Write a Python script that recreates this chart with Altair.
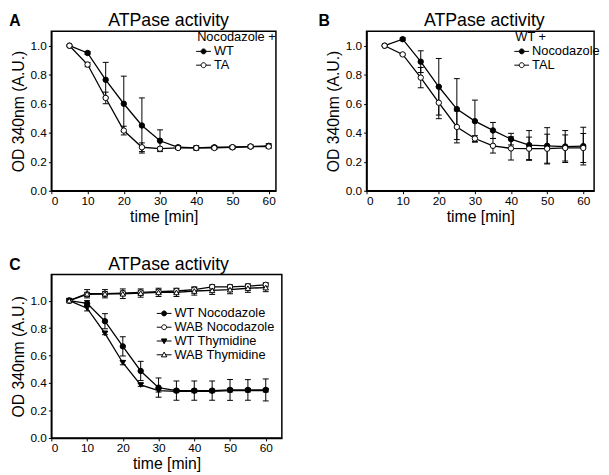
import altair as alt
import pandas as pd

# ---------------- data ----------------
times = [5, 10, 15, 20, 25, 30, 35, 40, 45, 50, 55, 60]

# Panel A  (Nocodazole +)
a_names = ["WT", "TA"]
a_wt = [1.0, 0.95, 0.765, 0.60, 0.45, 0.345, 0.30, 0.295, 0.30, 0.30, 0.305, 0.31]
a_wt_err = [0, 0.01, 0.12, 0.19, 0.19, 0.075, 0.01, 0.01, 0.01, 0.01, 0.01, 0.015]
a_ta = [1.0, 0.87, 0.64, 0.415, 0.30, 0.29, 0.295, 0.295, 0.295, 0.30, 0.305, 0.305]
a_ta_err = [0, 0.015, 0.04, 0.03, 0.03, 0.01, 0.01, 0.015, 0.01, 0.01, 0.01, 0.01]

# Panel B  (WT +)
b_names = ["Nocodazole", "TAL"]
b_noc = [1.0, 1.045, 0.89, 0.717, 0.563, 0.48, 0.416, 0.356, 0.315, 0.31, 0.305, 0.308]
b_noc_err = [0, 0.01, 0.075, 0.195, 0.21, 0.145, 0.055, 0.04, 0.10, 0.125, 0.11, 0.13]
b_tal = [1.0, 0.94, 0.78, 0.607, 0.44, 0.36, 0.31, 0.292, 0.29, 0.29, 0.295, 0.295]
b_tal_err = [0, 0.005, 0.07, 0.11, 0.11, 0.02, 0.05, 0.08, 0.08, 0.10, 0.09, 0.10]

# Panel C
c_names = ["WT Nocodazole", "WAB Nocodazole", "WT Thymidine", "WAB Thymidine"]
c_wtn = [1.0, 0.98, 0.85, 0.667, 0.488, 0.367, 0.345, 0.345, 0.345, 0.35, 0.35, 0.35]
c_wtn_err = [0, 0.02, 0.055, 0.07, 0.07, 0.07, 0.07, 0.07, 0.07, 0.076, 0.075, 0.08]
c_wabn = [1.0, 1.045, 1.05, 1.055, 1.06, 1.065, 1.07, 1.08, 1.10, 1.10, 1.105, 1.115]
c_wabn_err = [0, 0.015, 0.015, 0.015, 0.015, 0.015, 0.015, 0.015, 0.015, 0.015, 0.015, 0.015]
c_wtt = [1.0, 0.945, 0.762, 0.548, 0.386, 0.345, 0.34, 0.34, 0.34, 0.345, 0.345, 0.345]
c_wtt_err = [0, 0.02, 0.01, 0.015, 0.01, 0.01, 0.01, 0.01, 0.01, 0.01, 0.01, 0.01]
c_wabt = [1.0, 1.05, 1.05, 1.05, 1.055, 1.06, 1.06, 1.07, 1.075, 1.08, 1.09, 1.095]
c_wabt_err = [0, 0.03, 0.03, 0.035, 0.03, 0.03, 0.03, 0.03, 0.03, 0.03, 0.03, 0.03]

x_ticks = [0, 10, 20, 30, 40, 50, 60]
y_ticks = [0.0, 0.2, 0.4, 0.6, 0.8, 1.0]
panel_title = "ATPase activity"

FONT = "Liberation Sans"

# legend symbol paths (line + marker)
P_CIRCLE = "M-1.5,0H-0.5M0.5,0H1.5M0.5,0A0.5,0.5,0,1,1,-0.5,0A0.5,0.5,0,1,1,0.5,0Z"
P_TRI_DOWN = "M-1.5,0H1.5M-0.55,-0.42L0.55,-0.42L0,0.55Z"
P_TRI_UP = "M-1.5,0H-0.3M0.3,0H1.5M0,-0.55L0.55,0.42L-0.55,0.42Z"


def long_df(names, vals, errs):
    rows = []
    for n, v, e in zip(names, vals, errs):
        for t, y, s in zip(times, v, e):
            rows.append({"t": t, "v": y, "lo": y - s, "hi": y + s, "err": s, "series": n})
    return pd.DataFrame(rows)


def panel(letter, names, vals, errs, styles, xmax, ymax, w, h,
          legend_title, legend_x, legend_y, row_pad, letter_x, title_dx):
    df = long_df(names, vals, errs)
    base = alt.Chart(df)
    xscale = alt.Scale(domain=[0, xmax], nice=False)
    yscale = alt.Scale(domain=[0, ymax], nice=False)
    xaxis = alt.Axis(values=x_ticks, title="time [min]", titlePadding=2, labelOverlap=False)
    yaxis = alt.Axis(values=y_ticks, format=".1f", title="OD 340nm (A.U.)", titlePadding=4,
                     labelOverlap=False)

    def X(f):
        return alt.X(f, scale=xscale, axis=xaxis)

    def Y(f):
        return alt.Y(f, scale=yscale, axis=yaxis)

    layers = []
    for n in names:
        sub = base.transform_filter(alt.datum.series == n)
        layers.append(sub.mark_line(color="black", strokeWidth=1.3).encode(x=X("t:Q"), y=Y("v:Q")))
    for n in names:
        sub = base.transform_filter((alt.datum.series == n) & (alt.datum.err > 0))
        layers.append(sub.mark_rule(color="black", strokeWidth=1).encode(
            x=X("t:Q"), y=Y("lo:Q"), y2="hi:Q"))
        layers.append(sub.mark_rule(color="black", strokeWidth=1, xOffset=-3, x2Offset=3).encode(
            x=X("t:Q"), x2="t:Q", y=Y("hi:Q")))
        layers.append(sub.mark_rule(color="black", strokeWidth=1, xOffset=-3, x2Offset=3).encode(
            x=X("t:Q"), x2="t:Q", y=Y("lo:Q")))
    for n, (shape, filled) in zip(names, styles):
        sub = base.transform_filter(alt.datum.series == n)
        layers.append(sub.mark_point(shape=shape, filled=True,
                                     fill=("black" if filled else "white"),
                                     stroke="black", strokeWidth=1, size=30, opacity=1).encode(
            x=X("t:Q"), y=Y("v:Q")))
    # legend layer (no visible marks; legend built from explicit scale domain)
    paths = []
    fills = []
    for shape, filled in styles:
        if shape == "circle":
            paths.append(P_CIRCLE)
        elif shape == "triangle-down":
            paths.append(P_TRI_DOWN)
        else:
            paths.append(P_TRI_UP)
        fills.append("black" if filled else "white")
    leg_kwargs = dict(orient="none", legendX=legend_x, legendY=legend_y,
                      symbolSize=100, symbolStrokeColor="black", symbolStrokeWidth=1,
                      labelFontSize=13, labelFont=FONT, labelColor="black",
                      titleFontSize=13, titleFont=FONT, titleFontWeight="normal", titleColor="black",
                      rowPadding=row_pad, titlePadding=1, labelOffset=4, padding=0)
    leg_kwargs["title"] = legend_title if legend_title else None
    leg_df = pd.DataFrame({"series": names})
    layers.append(alt.Chart(leg_df).transform_filter(alt.datum.series == "__none__").mark_point(
        filled=True, strokeWidth=1, opacity=1).encode(
        x=X("t:Q"), y=Y("v:Q"),
        shape=alt.Shape("series:N", scale=alt.Scale(domain=names, range=paths),
                        legend=alt.Legend(**leg_kwargs)),
        fill=alt.Fill("series:N", scale=alt.Scale(domain=names, range=fills),
                      legend=alt.Legend(**leg_kwargs)),
        stroke=alt.Stroke("series:N", scale=alt.Scale(domain=names, range=["black"] * len(names)),
                          legend=alt.Legend(**leg_kwargs)),
    ))
    # panel letter and panel title
    layers.append(alt.Chart(pd.DataFrame({"label": [letter]})).mark_text(
        fontSize=16, fontWeight="bold", align="left", baseline="bottom", font=FONT, color="black").encode(
        text="label:N", x=alt.value(letter_x), y=alt.value(-2)))
    layers.append(alt.Chart(pd.DataFrame({"label": [panel_title]})).mark_text(
        fontSize=18, align="center", baseline="bottom", font=FONT, color="black").encode(
        text="label:N", x=alt.value(w / 2 + title_dx), y=alt.value(-1)))
    return alt.layer(*layers).properties(width=w, height=h).resolve_scale(
        shape="independent", fill="independent", stroke="independent")


pA = panel("A", a_names, [a_wt, a_ta], [a_wt_err, a_ta_err],
           [("circle", True), ("circle", False)], 62, 1.10, 228, 162,
           "Nocodazole +", 148, 0, -2, -42.7, 5)
pB = panel("B", b_names, [b_noc, b_tal], [b_noc_err, b_tal_err],
           [("circle", True), ("circle", False)], 63, 1.10, 231, 162,
           "WT +", 151, 0, -2, -48.7, 4)
pC = panel("C", c_names, [c_wtn, c_wabn, c_wtt, c_wabt],
           [c_wtn_err, c_wabn_err, c_wtt_err, c_wabt_err],
           [("circle", True), ("circle", False), ("triangle-down", True), ("triangle-up", False)],
           64.5, 1.19, 234, 166, None, 108, 33, -3, -42.7, 2)

chart = alt.concat(pA, pB, pC, columns=2, spacing={"row": 85, "column": 86},
                   bounds="flush", padding=0).resolve_scale(
    shape="independent", fill="independent", stroke="independent").configure(font=FONT).configure_view(
    stroke="black", strokeWidth=1.5).configure_axis(
    grid=False, domainColor="black", domainWidth=1.5, tickColor="black", tickSize=3,
    tickWidth=1, labelFontSize=12, labelColor="black", labelFont=FONT, labelPadding=2,
    titleFontSize=16, titleFontWeight="normal", titleColor="black", titleFont=FONT)

chart.save("out.html", embed_options={"renderer": "svg", "actions": False})
